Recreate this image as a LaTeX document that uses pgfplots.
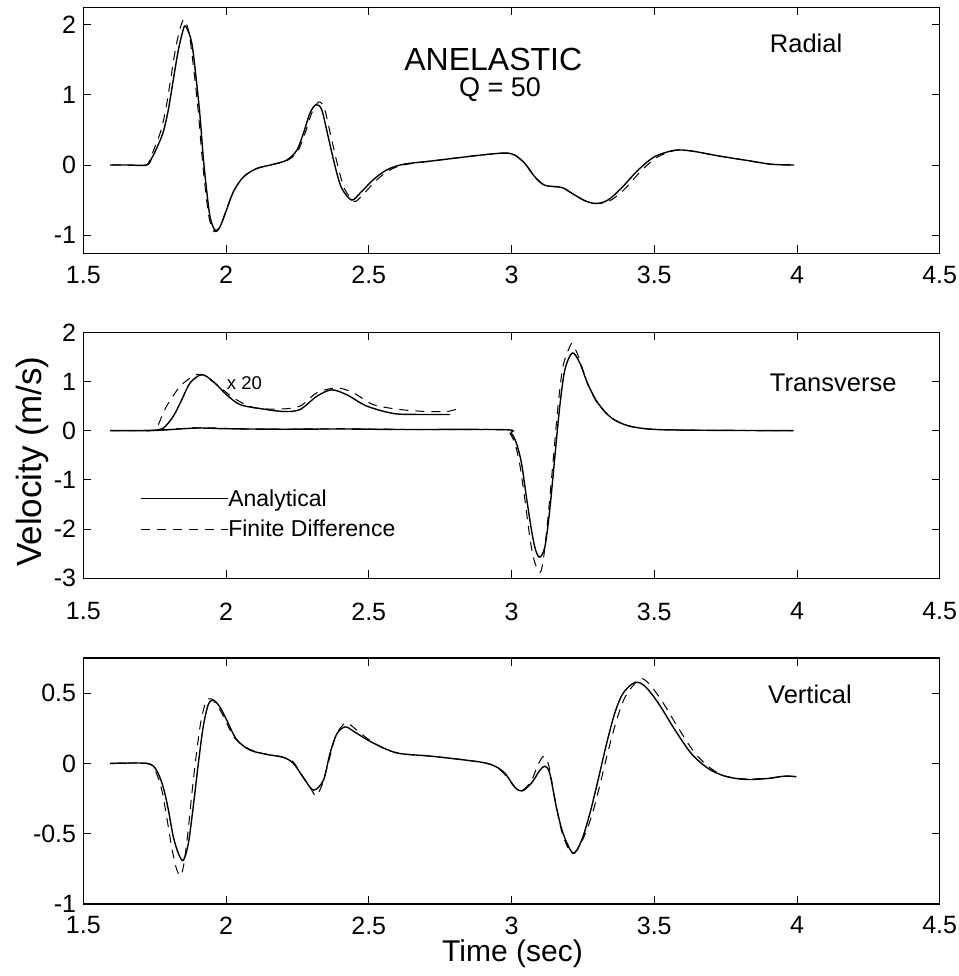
\documentclass[border=0pt]{standalone}
\usepackage{fontspec}
\setmainfont{Liberation Sans}
\usepackage{pgfplots}
\pgfplotsset{compat=1.18}

\pgfplotsset{
  seis/.style={
    scale only axis, width=856.4pt, height=246pt,
    xmin=1.5, xmax=4.5, xtick={1.5,2,2.5,3,3.5,4,4.5},
    tick align=inside, major tick length=8pt,
    every tick/.style={black, line width=0.9pt},
    axis line style={line width=1.1pt},
    tick label style={font=\fontsize{25}{30}\selectfont},
    /pgf/number format/assume math mode=true,
    xticklabel style={inner sep=0pt, anchor=north, yshift=-12.5pt},
    yticklabel style={inner sep=0pt, anchor=east, xshift=-7pt},
  },
  ana/.style={black, line width=1.4pt, smooth, tension=0.5},
  fd/.style={black, line width=1pt, dash pattern=on 9pt off 7pt, smooth, tension=0.5},
}

\begin{document}
\begin{tikzpicture}
\useasboundingbox (0pt,0pt) rectangle (958pt,976pt);

% Radial
\begin{axis}[seis, at={(83.3pt,722.7pt)}, anchor=south west,
  ymin=-1.26, ymax=2.25, ytick={-1,0,1,2}]
\addplot[ana] coordinates {
(1.594,0)(1.65,0)(1.722,0)(1.74,0.1)(1.757,0.24)(1.78,0.47)(1.798,0.79)(1.815,1.21)
(1.833,1.64)(1.85,1.93)(1.859,1.98)(1.88,1.74)(1.897,1.17)(1.909,0.69)(1.92,0.12)
(1.932,-0.36)(1.944,-0.74)(1.961,-0.93)(1.979,-0.88)(2.002,-0.64)(2.026,-0.38)
(2.061,-0.17)(2.108,-0.05)(2.166,0.01)(2.213,0.07)(2.248,0.21)(2.271,0.45)(2.294,0.74)
(2.315,0.86)(2.335,0.79)(2.358,0.40)(2.382,-0.02)(2.405,-0.33)(2.44,-0.50)(2.47,-0.40)
(2.516,-0.21)(2.563,-0.07)(2.621,0.01)(2.726,0.06)(2.89,0.14)(2.977,0.17)(3.012,0.14)
(3.047,0.02)(3.082,-0.17)(3.117,-0.29)(3.175,-0.32)(3.21,-0.40)(3.257,-0.51)(3.297,-0.55)
(3.338,-0.50)(3.385,-0.33)(3.444,-0.07)(3.502,0.12)(3.572,0.21)(3.63,0.20)(3.724,0.13)
(3.817,0.07)(3.911,0.01)(3.99,0)};
\addplot[fd] coordinates {
(1.6,0)(1.65,0)(1.72,0)(1.735,0.1)(1.75,0.25)(1.772,0.49)(1.79,0.82)(1.807,1.25)(1.825,1.70)
(1.843,2.0)(1.855,2.07)(1.872,1.85)(1.89,1.25)(1.903,0.75)(1.915,0.16)(1.928,-0.36)
(1.941,-0.76)(1.958,-0.95)(1.977,-0.9)(2.0,-0.65)(2.026,-0.38)(2.061,-0.17)(2.108,-0.05)
(2.166,0.01)(2.213,0.06)(2.25,0.19)(2.275,0.43)(2.30,0.74)(2.325,0.90)(2.345,0.8)
(2.368,0.40)(2.392,-0.02)(2.415,-0.34)(2.45,-0.52)(2.48,-0.42)(2.526,-0.22)(2.57,-0.08)
(2.621,0.0)(2.726,0.06)(2.89,0.14)(2.977,0.17)(3.012,0.14)(3.047,0.02)(3.082,-0.17)
(3.117,-0.29)(3.175,-0.32)(3.21,-0.40)(3.257,-0.51)(3.30,-0.55)(3.345,-0.51)(3.395,-0.35)
(3.455,-0.08)(3.51,0.11)(3.575,0.21)(3.63,0.20)(3.724,0.13)(3.817,0.07)(3.911,0.01)(3.99,0)};
\end{axis}

% Transverse
\begin{axis}[seis, at={(83.3pt,397.7pt)}, anchor=south west,
  ymin=-3, ymax=2, ytick={-3,-2,-1,0,1,2},
  xticklabel style={yshift=-11.7pt},
  legend style={draw=none, fill=none, inner sep=0pt, at={(0.0662,0.3351)}, anchor=north west,
    font=\fontsize{23}{28}\selectfont, row sep=20.7pt, column sep=0pt,
    cells={anchor=base west}, nodes={inner sep=0pt, text height=10pt, text depth=0pt}},
  legend image code/.code={\draw[#1] (0pt,7.7pt) -- (86.7pt,7.7pt);}]
\addplot[ana] coordinates {
(1.594,0)(1.75,0.005)(1.85,0.04)(1.91,0.055)(2.0,0.04)(2.2,0.03)(2.4,0.035)(2.6,0.025)
(2.976,0.02)(2.999,-0.05)(3.017,-0.25)(3.035,-0.66)(3.052,-1.34)(3.07,-2.02)(3.084,-2.42)
(3.099,-2.57)(3.117,-2.36)(3.134,-1.61)(3.152,-0.52)(3.169,0.49)(3.187,1.24)(3.213,1.58)
(3.239,1.38)(3.268,0.94)(3.303,0.56)(3.35,0.26)(3.409,0.10)(3.49,0.03)(3.642,0.01)(3.987,0)};
\addlegendentry{Analytical}
\addplot[fd] coordinates {
(1.6,0)(1.75,0.01)(1.91,0.06)(2.1,0.03)(2.4,0.04)(2.7,0.02)(2.97,0.02)(2.995,-0.06)
(3.013,-0.28)(3.03,-0.72)(3.048,-1.45)(3.065,-2.2)(3.08,-2.65)(3.10,-2.88)(3.112,-2.6)
(3.128,-1.75)(3.146,-0.6)(3.163,0.5)(3.18,1.3)(3.205,1.72)(3.215,1.75)(3.235,1.5)(3.265,0.98)
(3.30,0.57)(3.35,0.26)(3.409,0.10)(3.49,0.03)(3.642,0.01)(3.987,0)};
\addlegendentry{Finite Difference}
% x 20 traces
\addplot[ana, forget plot] coordinates {
(1.722,0)(1.75,0.01)(1.78,0.05)(1.815,0.29)(1.845,0.63)(1.874,0.97)(1.915,1.14)(1.955,1.00)
(2.002,0.73)(2.049,0.53)(2.119,0.45)(2.201,0.39)(2.259,0.43)(2.318,0.70)(2.37,0.83)
(2.423,0.73)(2.493,0.50)(2.586,0.35)(2.668,0.33)(2.785,0.33)};
\addplot[fd, forget plot] coordinates {
(1.763,0.12)(1.792,0.50)(1.839,0.90)(1.885,1.11)(1.915,1.14)(1.967,0.94)(2.025,0.67)
(2.096,0.47)(2.189,0.44)(2.259,0.50)(2.318,0.77)(2.388,0.87)(2.446,0.77)(2.516,0.53)
(2.61,0.43)(2.703,0.39)(2.774,0.39)(2.808,0.44)};
\end{axis}

% Vertical
\begin{axis}[seis, at={(83.3pt,72pt)}, anchor=south west,
  ymin=-1, ymax=0.75, ytick={-1,-0.5,0,0.5}]
\addplot[ana] coordinates {
(1.594,0)(1.723,0)(1.757,-0.05)(1.78,-0.17)(1.798,-0.33)(1.815,-0.52)(1.833,-0.64)
(1.85,-0.69)(1.868,-0.57)(1.885,-0.31)(1.903,0)(1.92,0.26)(1.938,0.42)(1.956,0.45)
(1.979,0.40)(2.002,0.31)(2.037,0.17)(2.084,0.095)(2.143,0.064)(2.201,0.043)(2.236,0)
(2.271,-0.10)(2.306,-0.19)(2.341,-0.12)(2.364,0.07)(2.388,0.21)(2.417,0.26)(2.446,0.23)
(2.493,0.17)(2.551,0.11)(2.61,0.07)(2.726,0.05)(2.89,0.01)(2.942,-0.02)(2.977,-0.07)
(3.012,-0.17)(3.037,-0.196)(3.07,-0.14)(3.099,-0.05)(3.117,-0.02)(3.134,-0.07)
(3.157,-0.31)(3.181,-0.50)(3.216,-0.64)(3.245,-0.55)(3.274,-0.36)(3.303,-0.12)
(3.333,0.14)(3.362,0.36)(3.391,0.50)(3.432,0.576)(3.467,0.55)(3.514,0.43)(3.572,0.24)
(3.63,0.07)(3.689,-0.036)(3.747,-0.09)(3.817,-0.114)(3.899,-0.107)(3.958,-0.09)(3.998,-0.095)};
\addplot[fd] coordinates {
(1.6,0)(1.725,0)(1.752,-0.05)(1.775,-0.19)(1.792,-0.38)(1.81,-0.6)(1.825,-0.74)(1.84,-0.80)
(1.852,-0.72)(1.866,-0.5)(1.88,-0.22)(1.895,0.05)(1.912,0.30)(1.93,0.44)(1.948,0.46)
(1.97,0.41)(1.995,0.32)(2.03,0.18)(2.084,0.1)(2.143,0.065)(2.20,0.045)(2.236,0.01)
(2.27,-0.10)(2.30,-0.19)(2.315,-0.23)(2.335,-0.16)(2.358,0.0)(2.385,0.2)(2.42,0.29)
(2.45,0.25)(2.50,0.17)(2.551,0.11)(2.61,0.07)(2.726,0.05)(2.89,0.01)(2.942,-0.02)
(2.977,-0.08)(3.012,-0.17)(3.04,-0.19)(3.07,-0.12)(3.095,0.0)(3.113,0.05)(3.13,-0.01)
(3.152,-0.25)(3.178,-0.5)(3.212,-0.64)(3.245,-0.56)(3.28,-0.38)(3.31,-0.15)(3.34,0.10)
(3.37,0.32)(3.40,0.48)(3.449,0.60)(3.48,0.57)(3.525,0.45)(3.585,0.25)(3.64,0.08)
(3.695,-0.03)(3.747,-0.09)(3.817,-0.11)(3.899,-0.105)(3.958,-0.09)(3.998,-0.095)};
\end{axis}

% titles and labels
\node[anchor=base, inner sep=0pt, font=\fontsize{32}{38}\selectfont] at (493.3pt,905pt) {ANELASTIC};
\node[anchor=base, inner sep=0pt, font=\fontsize{27}{32}\selectfont] at (500pt,879.3pt) {Q = 50};
\node[anchor=base west, inner sep=0pt, font=\fontsize{25.5}{30}\selectfont] at (769.7pt,923.7pt) {Radial};
\node[anchor=base west, inner sep=0pt, font=\fontsize{25.5}{30}\selectfont] at (769.7pt,584.3pt) {Transverse};
\node[anchor=base west, inner sep=0pt, font=\fontsize{25.5}{30}\selectfont] at (768pt,272.7pt) {Vertical};
\node[anchor=base west, inner sep=0pt, font=\fontsize{18.5}{22}\selectfont] at (226.7pt,586pt) {x 20};
\node[anchor=base, rotate=90, inner sep=0pt, font=\fontsize{35}{42}\selectfont] at (41pt,514.3pt) {Velocity (m/s)};
\node[anchor=base, inner sep=0pt, font=\fontsize{30}{36}\selectfont] at (512.5pt,14.3pt) {Time (sec)};
\end{tikzpicture}
\end{document}
